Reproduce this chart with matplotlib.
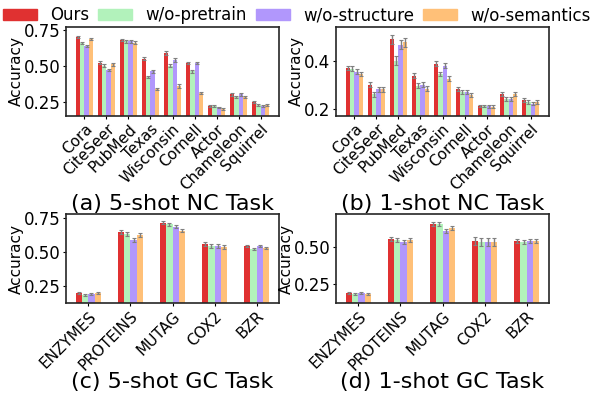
import numpy as np
import matplotlib
matplotlib.use("Agg")
import matplotlib.pyplot as plt
from matplotlib.patches import Patch

methods = ["Ours", "w/o-pretrain", "w/o-structure", "w/o-semantics"]
colors = ["#e03131", "#b2f2bb", "#b197fc", "#ffc078"]

nc_names = ["Cora", "CiteSeer", "PubMed", "Texas", "Wisconsin", "Cornell", "Actor", "Chameleon", "Squirrel"]
gc_names = ["ENZYMES", "PROTEINS", "MUTAG", "COX2", "BZR"]

# 5-shot NC, one list per method
nc5_ours = [0.70, 0.52, 0.68, 0.55, 0.59, 0.52, 0.22, 0.30, 0.25]
nc5_pre = [0.66, 0.50, 0.67, 0.42, 0.50, 0.46, 0.22, 0.28, 0.23]
nc5_str = [0.64, 0.47, 0.67, 0.46, 0.54, 0.52, 0.21, 0.30, 0.22]
nc5_sem = [0.685, 0.51, 0.66, 0.34, 0.36, 0.31, 0.20, 0.28, 0.23]
nc5_err = [0.008, 0.010, 0.009, 0.008, 0.012, 0.008, 0.006, 0.008, 0.007]

# 1-shot NC
nc1_ours = [0.37, 0.30, 0.49, 0.337, 0.387, 0.283, 0.211, 0.262, 0.236]
nc1_pre = [0.366, 0.26, 0.40, 0.295, 0.345, 0.271, 0.211, 0.24, 0.229]
nc1_str = [0.355, 0.28, 0.467, 0.30, 0.38, 0.27, 0.21, 0.24, 0.221]
nc1_sem = [0.345, 0.28, 0.477, 0.283, 0.325, 0.257, 0.207, 0.26, 0.228]
nc1_err = [0.010, 0.010, 0.018, 0.010, 0.010, 0.008, 0.006, 0.009, 0.008]

# 5-shot GC
gc5_ours = [0.20, 0.648, 0.715, 0.56, 0.545]
gc5_pre = [0.186, 0.634, 0.705, 0.547, 0.523]
gc5_str = [0.19, 0.59, 0.686, 0.545, 0.545]
gc5_sem = [0.195, 0.626, 0.656, 0.537, 0.53]
gc5_err = [0.008, 0.015, 0.012, 0.015, 0.010]

# 1-shot GC
gc1_ours = [0.19, 0.551, 0.65, 0.538, 0.538]
gc1_pre = [0.183, 0.545, 0.652, 0.531, 0.531]
gc1_str = [0.19, 0.531, 0.605, 0.531, 0.538]
gc1_sem = [0.183, 0.545, 0.625, 0.531, 0.538]
gc1_err = [0.008, 0.015, 0.015, 0.025, 0.015]

fig = plt.figure(figsize=(5.9, 3.94), dpi=100)
W, H = 590, 394


def make_ax(l, t, r, b):
    return fig.add_axes([l / W, 1 - b / H, (r - l) / W, (b - t) / H])


def draw(ax, names, series, err, width, ylim, yticks, ylabels, title, title_y):
    x = np.arange(len(names))
    n = len(series)
    for i, vals in enumerate(series):
        off = (i - (n - 1) / 2) * width
        ax.bar(x + off, vals, width, color=colors[i], yerr=err,
               error_kw=dict(ecolor="gray", elinewidth=1, capsize=1.5, capthick=0.8))
    ax.set_xticks(x)
    ax.set_xticklabels(names, rotation=45, ha="right", rotation_mode="anchor", fontsize=11)
    ax.set_ylim(*ylim)
    ax.set_yticks(yticks)
    ax.set_yticklabels(ylabels, fontsize=12)
    ax.set_ylabel("Accuracy", fontsize=11, labelpad=0)
    ax.tick_params(length=2, pad=2)
    for s in ax.spines.values():
        s.set_linewidth(1.2)
        s.set_color("0.15")
    bb = ax.get_position()
    fig.text((bb.x0 + bb.x1) / 2, 1 - title_y / H, title, ha="center", va="center", fontsize=16)


ax1 = make_ax(66, 27, 279, 116)
draw(ax1, nc_names, [nc5_ours, nc5_pre, nc5_str, nc5_sem], nc5_err, 0.2,
     (0.15, 0.77), [0.25, 0.5, 0.75], ["0.25", "0.50", "0.75"], "(a) 5-shot NC Task", 204)

ax2 = make_ax(336, 27, 549, 116)
draw(ax2, nc_names, [nc1_ours, nc1_pre, nc1_str, nc1_sem], nc1_err, 0.2,
     (0.169, 0.541), [0.2, 0.4], ["0.2", "0.4"], "(b) 1-shot NC Task", 204)

ax3 = make_ax(66, 214, 279, 303)
draw(ax3, gc_names, [gc5_ours, gc5_pre, gc5_str, gc5_sem], gc5_err, 0.15,
     (0.124, 0.78), [0.25, 0.5, 0.75], ["0.25", "0.50", "0.75"], "(c) 5-shot GC Task", 382)

ax4 = make_ax(336, 214, 549, 303)
draw(ax4, gc_names, [gc1_ours, gc1_pre, gc1_str, gc1_sem], gc1_err, 0.15,
     (0.125, 0.717), [0.25, 0.5], ["0.25", "0.50"], "(d) 1-shot GC Task", 382)

handles = [Patch(color=c) for c in colors]
fig.legend(handles, methods, loc="center left", bbox_to_anchor=(3 / W, 1 - 15.5 / H), ncol=4,
           frameon=False, fontsize=12, handlelength=2.05, handleheight=0.66, handletextpad=0.78,
           columnspacing=0.54, borderaxespad=0.0, borderpad=0.0)

fig.savefig("out.png", dpi=100)
